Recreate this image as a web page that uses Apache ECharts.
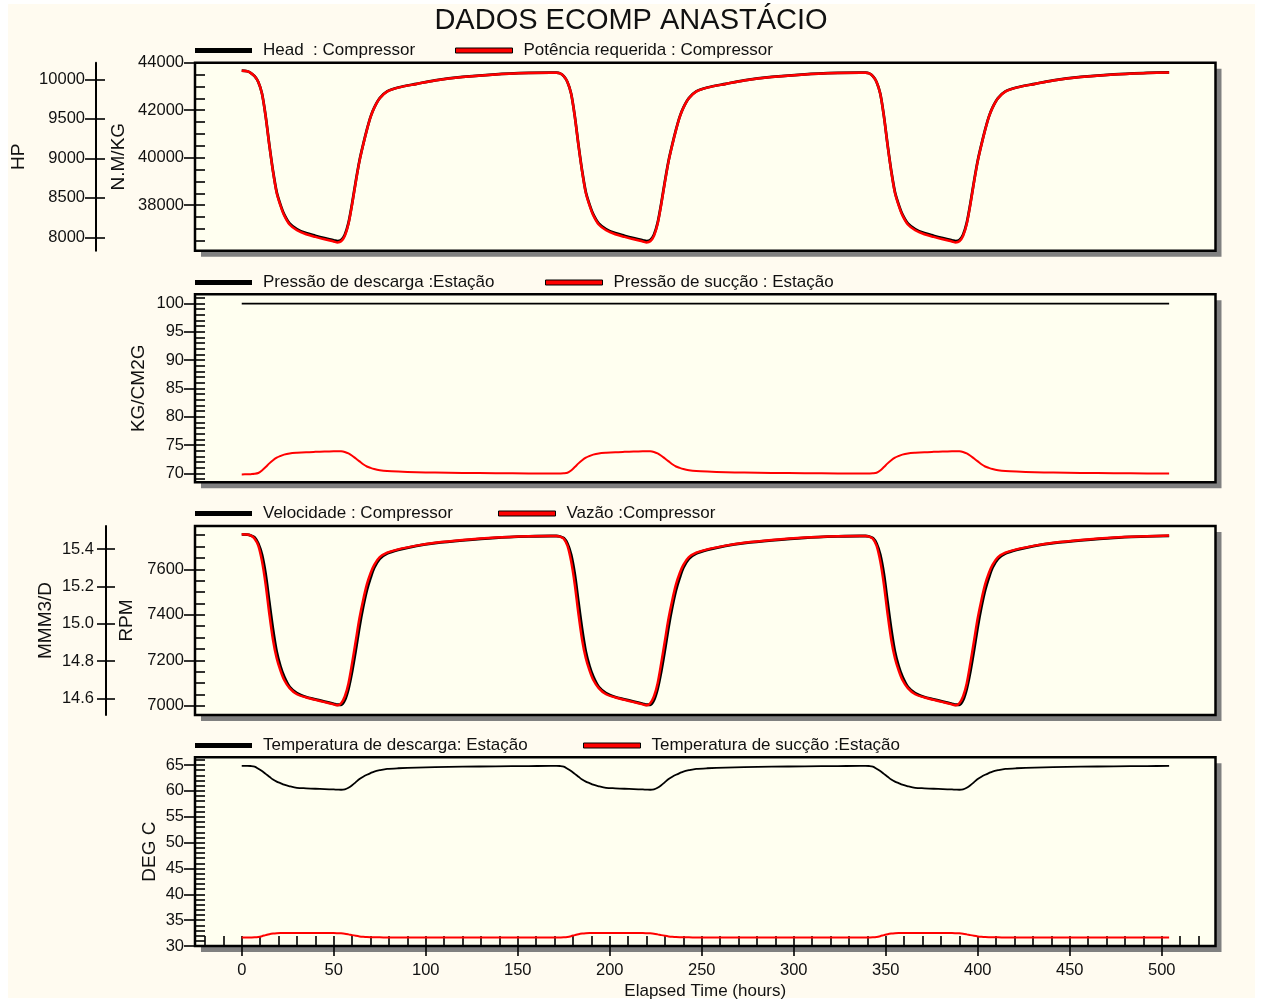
<!DOCTYPE html>
<html><head><meta charset="utf-8">
<script src="https://cdn.jsdelivr.net/npm/echarts@6/dist/echarts.min.js"></script>
<style>
html,body{margin:0;padding:0;background:#fff;}
#bg{position:absolute;left:8px;top:4px;width:1247px;height:994px;background:#FFFBF0;}
#chart{position:absolute;left:0;top:0;width:1262px;height:1000px;}
</style></head><body>
<div id="bg"></div><div id="chart"></div>
<script>
// ---------- DATA ----------
const hours = [0,3,5,7,9,11,13,15,17,19,21,23,26,30,35,40,45,50,52,54,56,58,60,62,64,66,68,70,72,75,79,85,95,105,120,138,156,
168,171,173,175,177,179,181,183,185,187,189,191,194,198,203,208,213,218,220,222,224,226,228,230,232,234,236,238,240,243,247,253,263,273,288,306,324,
336,339,341,343,345,347,349,351,353,355,357,359,362,366,371,376,381,386,388,390,392,394,396,398,400,402,404,406,408,411,415,421,431,441,456,474,492,
504];

// Head : Compressor (N.M/KG)
const headValues = [43665,43640,43565,43430,43190,42700,41750,40540,39440,38550,38030,37620,37230,36990,36820,36710,36610,36520,36480,36525,36750,37250,38080,39020,39880,40560,41180,41720,42110,42510,42790,42955,43110,43255,43400,43512,43568,
43582,43580,43550,43430,43190,42700,41750,40540,39440,38550,38030,37620,37230,36990,36820,36710,36610,36520,36480,36525,36750,37250,38080,39020,39880,40560,41180,41720,42110,42510,42790,42955,43110,43255,43400,43512,43568,
43582,43580,43550,43430,43190,42700,41750,40540,39440,38550,38030,37620,37230,36990,36820,36710,36610,36520,36480,36525,36750,37250,38080,39020,39880,40560,41180,41720,42110,42510,42790,42955,43110,43255,43400,43512,43568,
43590];

// Potência requerida : Compressor (HP)
const powerValues = [10109,10101,10078,10038,9965,9817,9529,9163,8830,8561,8404,8280,8162,8089,8038,8005,7974,7947,7935,7949,8017,8168,8419,8703,8964,9170,9357,9520,9638,9759,9844,9894,9941,9985,10029,10062,10079,
10084,10083,10074,10038,9965,9817,9529,9163,8830,8561,8404,8280,8162,8089,8038,8005,7974,7947,7935,7949,8017,8168,8419,8703,8964,9170,9357,9520,9638,9759,9844,9894,9941,9985,10029,10062,10079,
10084,10083,10074,10038,9965,9817,9529,9163,8830,8561,8404,8280,8162,8089,8038,8005,7974,7947,7935,7949,8017,8168,8419,8703,8964,9170,9357,9520,9638,9759,9844,9894,9941,9985,10029,10062,10079,
10086];

// Pressão de descarga : Estação (KG/CM2G)
const dischargePressHours = [0, 504];
const dischargePressValues = [99.95, 99.95];

// Pressão de sucção : Estação (KG/CM2G)
const suctionPressValues = [69.8,69.82,69.85,69.9,70.05,70.5,71.1,71.75,72.3,72.75,73.05,73.3,73.5,73.62,73.72,73.78,73.83,73.88,73.9,73.88,73.75,73.5,73.1,72.6,72.1,71.6,71.2,70.95,70.75,70.55,70.4,70.3,70.2,70.12,70.06,70.02,69.98,
69.96,69.96,69.97,70.0,70.1,70.5,71.1,71.75,72.3,72.75,73.05,73.3,73.5,73.62,73.72,73.78,73.83,73.88,73.9,73.88,73.75,73.5,73.1,72.6,72.1,71.6,71.2,70.95,70.75,70.55,70.4,70.3,70.2,70.12,70.06,70.02,69.98,
69.96,69.96,69.97,70.0,70.1,70.5,71.1,71.75,72.3,72.75,73.05,73.3,73.5,73.62,73.72,73.78,73.83,73.88,73.9,73.88,73.75,73.5,73.1,72.6,72.1,71.6,71.2,70.95,70.75,70.55,70.4,70.3,70.2,70.12,70.06,70.02,69.98,
69.95];

// Velocidade : Compressor (RPM)
const speedValues = [7753,7752,7748,7740,7713,7664,7578,7455,7336,7238,7175,7130,7084,7056,7039,7029,7019,7009,7005,7005,7025,7075,7152,7246,7348,7435,7508,7562,7607,7646,7669,7685,7703,7715,7727,7738,7744,
7746,7746,7744,7737,7713,7664,7578,7455,7336,7238,7175,7130,7084,7056,7039,7029,7019,7009,7005,7005,7025,7075,7152,7246,7348,7435,7508,7562,7607,7646,7669,7685,7703,7715,7727,7738,7744,
7746,7746,7744,7737,7713,7664,7578,7455,7336,7238,7175,7130,7084,7056,7039,7029,7019,7009,7005,7005,7025,7075,7152,7246,7348,7435,7508,7562,7607,7646,7669,7685,7703,7715,7727,7738,7744,
7747];

// Vazão : Compressor (MMM3/D)
const flowValues = [15.479,15.477,15.471,15.455,15.418,15.335,15.210,15.052,14.913,14.815,14.750,14.700,14.655,14.622,14.605,14.592,14.580,14.568,14.563,14.574,14.610,14.680,14.790,14.910,15.030,15.127,15.210,15.270,15.315,15.356,15.380,15.398,15.418,15.433,15.448,15.461,15.468,
15.470,15.470,15.466,15.455,15.418,15.335,15.210,15.052,14.913,14.815,14.750,14.700,14.655,14.622,14.605,14.592,14.580,14.568,14.563,14.574,14.610,14.680,14.790,14.910,15.030,15.127,15.210,15.270,15.315,15.356,15.380,15.398,15.418,15.433,15.448,15.461,15.468,
15.470,15.470,15.466,15.455,15.418,15.335,15.210,15.052,14.913,14.815,14.750,14.700,14.655,14.622,14.605,14.592,14.580,14.568,14.563,14.574,14.610,14.680,14.790,14.910,15.030,15.127,15.210,15.270,15.315,15.356,15.380,15.398,15.418,15.433,15.448,15.461,15.468,
15.472];

// Temperatura de descarga : Estação (DEG C)
const dischargeTempValues = [64.85,64.85,64.82,64.7,64.3,63.85,63.3,62.75,62.2,61.8,61.5,61.2,60.9,60.6,60.5,60.42,60.35,60.28,60.25,60.22,60.3,60.62,61.1,61.7,62.3,62.75,63.12,63.45,63.75,64.0,64.25,64.38,64.5,64.6,64.68,64.75,64.8,
64.85,64.85,64.82,64.7,64.3,63.85,63.3,62.75,62.2,61.8,61.5,61.2,60.9,60.6,60.5,60.42,60.35,60.28,60.25,60.22,60.3,60.62,61.1,61.7,62.3,62.75,63.12,63.45,63.75,64.0,64.25,64.38,64.5,64.6,64.68,64.75,64.8,
64.85,64.85,64.82,64.7,64.3,63.85,63.3,62.75,62.2,61.8,61.5,61.2,60.9,60.6,60.5,60.42,60.35,60.28,60.25,60.22,60.3,60.62,61.1,61.7,62.3,62.75,63.12,63.45,63.75,64.0,64.25,64.38,64.5,64.6,64.68,64.75,64.8,
64.85];

// Temperatura de sucção : Estação (DEG C)
const suctionTempValues = [31.65,31.65,31.66,31.68,31.75,31.9,32.1,32.28,32.4,32.47,32.5,32.5,32.5,32.5,32.5,32.5,32.5,32.5,32.48,32.45,32.38,32.25,32.1,31.97,31.86,31.78,31.72,31.69,31.68,31.67,31.66,31.66,31.65,31.65,31.65,31.65,31.65,
31.65,31.65,31.66,31.68,31.75,31.9,32.1,32.28,32.4,32.47,32.5,32.5,32.5,32.5,32.5,32.5,32.5,32.5,32.48,32.45,32.38,32.25,32.1,31.97,31.86,31.78,31.72,31.69,31.68,31.67,31.66,31.66,31.65,31.65,31.65,31.65,31.65,
31.65,31.65,31.66,31.68,31.75,31.9,32.1,32.28,32.4,32.47,32.5,32.5,32.5,32.5,32.5,32.5,32.5,32.5,32.48,32.45,32.38,32.25,32.1,31.97,31.86,31.78,31.72,31.69,31.68,31.67,31.66,31.66,31.65,31.65,31.65,31.65,31.65,
31.65];

// ---------- TICKS ----------
const hourTicks = [0,50,100,150,200,250,300,350,400,450,500];
const headTicks = [38000,40000,42000,44000];
const hpTicks = [8000,8500,9000,9500,10000];
const pressTicks = [70,75,80,85,90,95,100];
const rpmTicks = [7000,7200,7400,7600];
const flowTicks = [14.6,14.8,15.0,15.2,15.4];
const tempTicks = [30,35,40,45,50,55,60,65];
function seq(a, b, s) { const r = []; for (let v = a; v <= b + 1e-9; v += s) r.push(+v.toFixed(4)); return r; }
const hourMinor = seq(-20, 520, 10);
const headMinor = seq(36500, 44000, 500);
const pressMinor = seq(69, 101, 1);
const rpmMinor = seq(7000, 7750, 50);
const tempMinor = seq(30, 66, 1);

// ---------- CHART ----------
const FONT = "'Liberation Sans', Arial, sans-serif";
const INK = '#111';
const X_MIN = -25.4, X_MAX = 529.2;
const BOX_LEFT = 195, BOX_WIDTH = 1020.5;
const panels = [{ top: 62.7, h: 188 }, { top: 294.3, h: 188 }, { top: 526, h: 189 }, { top: 757.3, h: 188.7 }];
const plain = v => String(v);

function labelAxis(o) {
  return {
    type: 'value', gridIndex: o.grid, position: 'left', offset: o.offset || 0,
    min: o.min, max: o.max,
    name: o.name, nameLocation: 'middle', nameRotate: 90, nameGap: o.nameGap, nameMoveOverlap: false,
    nameTextStyle: { fontFamily: FONT, fontSize: 19, color: INK },
    axisLine: { show: !!o.line, onZero: false, lineStyle: { color: '#000', width: 2 } },
    axisTick: { show: true, inside: false, length: o.tickLen || 11, customValues: o.ticks, lineStyle: { color: '#000', width: 1.6 } },
    axisLabel: { show: true, customValues: o.ticks, margin: o.margin || 11, fontFamily: FONT, fontSize: 16.5, color: INK, formatter: o.fmt || plain },
    splitLine: { show: false }
  };
}
function tickAxis(o) {
  return {
    type: 'value', gridIndex: o.grid, position: 'left', offset: o.offset || 0, min: o.min, max: o.max,
    axisLine: { show: false, onZero: false },
    axisTick: { show: true, inside: true, length: o.len || 10, customValues: o.ticks, lineStyle: { color: '#000', width: 1.6 } },
    axisLabel: { show: false }, splitLine: { show: false }
  };
}
function grid(p) {
  return { left: BOX_LEFT, top: p.top, width: BOX_WIDTH, height: p.h, show: true, backgroundColor: '#FFFFF0',
    borderWidth: 0, shadowColor: '#808080', shadowOffsetX: 6, shadowOffsetY: 6, shadowBlur: 0,
    containLabel: false, outerBoundsMode: 'none' };
}
function frame(p) {
  return { type: 'rect', silent: true, z: 100, shape: { x: BOX_LEFT, y: p.top, width: BOX_WIDTH, height: p.h },
    style: { fill: null, stroke: '#000', lineWidth: 2.5 } };
}
function hiddenX(g) {
  return { type: 'value', gridIndex: g, min: X_MIN, max: X_MAX, show: false, axisLine: { onZero: false }, splitLine: { show: false } };
}
function leg(name, left, cy, color, bw) {
  return { show: true, left: left, top: cy - 7, padding: 0, itemWidth: 57, itemHeight: 5, icon: 'rect', selectedMode: false,
    textStyle: { fontFamily: FONT, fontSize: 17, color: INK, padding: [0, 0, 0, 6] },
    data: [{ name: name, icon: 'rect', itemStyle: { color: color, borderColor: '#000', borderWidth: bw } }] };
}
function pts(xs, ys) { return xs.map((x, i) => [x, ys[i]]); }
function line(name, xi, yi, xs, ys, color, w) {
  return { name: name, type: 'line', xAxisIndex: xi, yAxisIndex: yi, data: pts(xs, ys), showSymbol: false, symbol: 'none',
    smooth: 0.3, clip: false, lineStyle: { color: color, width: w, join: 'round' }, itemStyle: { color: color } };
}

const option = {
  animation: false,
  title: { text: 'DADOS ECOMP ANASTÁCIO', left: 'center', top: 6, padding: 0,
    textStyle: { fontFamily: FONT, fontSize: 29, fontWeight: 'normal', color: INK } },
  legend: [
    leg('Head  : Compressor', 195, 49, '#000', 0),
    leg('Potência requerida : Compressor', 455, 49, '#ff0000', 1),
    leg('Pressão de descarga :Estação', 195, 281, '#000', 0),
    leg('Pressão de sucção : Estação', 545, 281, '#ff0000', 1),
    leg('Velocidade : Compressor', 195, 512, '#000', 0),
    leg('Vazão :Compressor', 498, 512, '#ff0000', 1),
    leg('Temperatura de descarga: Estação', 195, 744, '#000', 0),
    leg('Temperatura de sucção :Estação', 583, 744, '#ff0000', 1)
  ],
  grid: panels.map(grid),
  graphic: panels.map(frame),
  xAxis: [
    hiddenX(0), hiddenX(1), hiddenX(2),
    { type: 'value', gridIndex: 3, position: 'bottom', min: X_MIN, max: X_MAX,
      name: 'Elapsed Time (hours)', nameLocation: 'middle', nameGap: 37, nameMoveOverlap: false,
      nameTextStyle: { fontFamily: FONT, fontSize: 17, color: INK },
      axisLine: { show: false, onZero: false },
      axisTick: { show: true, inside: false, length: 10, customValues: hourTicks, lineStyle: { color: '#000', width: 1.6 } },
      axisLabel: { customValues: hourTicks, margin: 16, fontFamily: FONT, fontSize: 16.5, color: INK, formatter: plain },
      splitLine: { show: false } },
    { type: 'value', gridIndex: 3, position: 'bottom', min: X_MIN, max: X_MAX,
      axisLine: { show: false, onZero: false },
      axisTick: { show: true, inside: true, length: 10, customValues: hourMinor, lineStyle: { color: '#000', width: 1.6 } },
      axisLabel: { show: false }, splitLine: { show: false } }
  ],
  yAxis: [
    labelAxis({ grid: 0, min: 36080, max: 44000, ticks: headTicks, name: 'N.M/KG', nameGap: 67 }),
    tickAxis({ grid: 0, min: 36080, max: 44000, ticks: headMinor }),
    labelAxis({ grid: 0, offset: 99, min: 7830, max: 10210, ticks: hpTicks, name: 'HP', nameGap: 68, line: true }),
    tickAxis({ grid: 0, offset: 99, min: 7830, max: 10210, ticks: hpTicks, len: 9 }),
    labelAxis({ grid: 1, min: 68.41, max: 101.59, ticks: pressTicks, name: 'KG/CM2G', nameGap: 47 }),
    tickAxis({ grid: 1, min: 68.41, max: 101.59, ticks: pressMinor }),
    labelAxis({ grid: 2, min: 6960, max: 7790, ticks: rpmTicks, name: 'RPM', nameGap: 59 }),
    tickAxis({ grid: 2, min: 6960, max: 7790, ticks: rpmMinor }),
    labelAxis({ grid: 2, offset: 89, min: 14.511, max: 15.523, ticks: flowTicks, name: 'MMM3/D', nameGap: 51, line: true, tickLen: 9, margin: 12, fmt: v => v.toFixed(1) }),
    tickAxis({ grid: 2, offset: 89, min: 14.511, max: 15.523, ticks: flowTicks, len: 9 }),
    labelAxis({ grid: 3, min: 30, max: 66.5, ticks: tempTicks, name: 'DEG C', nameGap: 36 }),
    tickAxis({ grid: 3, min: 30, max: 66.5, ticks: tempMinor })
  ],
  series: [
    line('Head  : Compressor', 0, 0, hours, headValues, '#000', 2.7),
    line('Potência requerida : Compressor', 0, 2, hours, powerValues, '#ff0000', 2.5),
    line('Pressão de descarga :Estação', 1, 4, dischargePressHours, dischargePressValues, '#000', 1.8),
    line('Pressão de sucção : Estação', 1, 4, hours, suctionPressValues, '#ff0000', 2),
    line('Velocidade : Compressor', 2, 6, hours, speedValues, '#000', 2.8),
    line('Vazão :Compressor', 2, 8, hours, flowValues, '#ff0000', 2.5),
    line('Temperatura de descarga: Estação', 3, 10, hours, dischargeTempValues, '#000', 1.8),
    line('Temperatura de sucção :Estação', 3, 10, hours, suctionTempValues, '#ff0000', 2)
  ]
};
const chart = echarts.init(document.getElementById('chart'), null, { renderer: 'canvas' });
chart.setOption(option);
</script></body></html>
